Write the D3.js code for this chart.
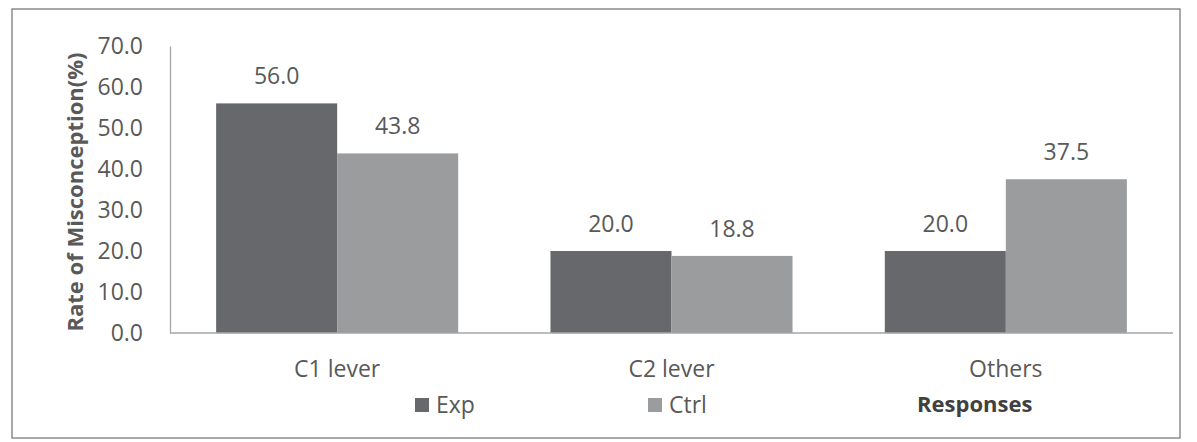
<!DOCTYPE html>
<html><head><meta charset="utf-8">
<script src="https://cdn.jsdelivr.net/npm/d3@7"></script>
<style>html,body{margin:0;padding:0;background:#fff}svg{display:block}</style>
</head><body>
<script>
const categories = ["C1 lever", "C2 lever", "Others"];
const seriesNames = ["Exp", "Ctrl"];
const expValues = [56.0, 20.0, 20.0];
const ctrlValues = [43.8, 18.8, 37.5];
const yTicks = [0, 10, 20, 30, 40, 50, 60, 70];
const yTitle = "Rate of Misconception(%)";
const xTitle = "Responses";

(function () {
const W = 1197, H = 442;
const colors = {Exp: "#67686b", Ctrl: "#9b9c9e"};
const textColor = "#595959";
const font = "'Open Sans', sans-serif";
const fs = 23;

const svg = d3.select("body").append("svg").attr("width", W).attr("height", H);
svg.append("rect").attr("x", 12).attr("y", 9).attr("width", 1168).attr("height", 429)
  .attr("fill", "#fff").attr("stroke", "#8c8c8c").attr("stroke-width", 1.5);

const pLeft = 170, pRight = 1173, pTop = 46, pBottom = 333;
const y = d3.scaleLinear().domain([0, 70]).range([pBottom, pTop]);
const x0 = d3.scaleBand().domain(categories).range([pLeft, pRight]).paddingInner(0.276).paddingOuter(0.138);
const x1 = d3.scaleBand().domain(seriesNames).range([0, x0.bandwidth()]);

const data = categories.map((c, i) => ({cat: c, vals: [{s: "Exp", v: expValues[i]}, {s: "Ctrl", v: ctrlValues[i]}]}));

const g = svg.append("g");
const groups = g.selectAll("g.grp").data(data).join("g").attr("transform", d => `translate(${x0(d.cat)},0)`);
groups.selectAll("rect").data(d => d.vals).join("rect")
  .attr("x", d => x1(d.s)).attr("width", x1.bandwidth())
  .attr("y", d => y(d.v)).attr("height", d => y(0) - y(d.v))
  .attr("fill", d => colors[d.s]);
groups.selectAll("text").data(d => d.vals).join("text")
  .attr("x", d => x1(d.s) + x1.bandwidth() / 2).attr("y", d => y(d.v) - 19)
  .attr("text-anchor", "middle").attr("font-family", font).attr("font-size", fs)
  .attr("fill", textColor).text(d => d.v.toFixed(1));

const yAxis = d3.axisLeft(y).tickValues(yTicks).tickFormat(d => d.toFixed(1)).tickSize(0).tickPadding(27);
const ya = svg.append("g").attr("transform", `translate(${pLeft},0)`).call(yAxis);
ya.select(".domain").attr("stroke", "#a6a6a6").attr("stroke-width", 1.3);
ya.selectAll("text").attr("font-family", font).attr("font-size", fs).attr("fill", textColor);

const xAxis = d3.axisBottom(x0).tickSize(0).tickPadding(28);
const xa = svg.append("g").attr("transform", `translate(0,${pBottom})`).call(xAxis);
xa.select(".domain").attr("stroke", "#a6a6a6").attr("stroke-width", 1.3).attr("d", `M${pLeft},0H${pRight}`);
xa.selectAll("text").attr("font-family", font).attr("font-size", fs).attr("fill", textColor);

svg.append("text").attr("transform", "translate(83,192) rotate(-90)")
  .attr("text-anchor", "middle").attr("font-family", font).attr("font-weight", "bold")
  .attr("font-size", 22).attr("fill", textColor).text(yTitle);

const legendX = {Exp: 415, Ctrl: 648};
seriesNames.forEach(s => {
  svg.append("rect").attr("x", legendX[s]).attr("y", 398).attr("width", 14).attr("height", 14).attr("fill", colors[s]);
  svg.append("text").attr("x", legendX[s] + 21).attr("y", 413).attr("font-family", font)
    .attr("font-size", fs).attr("fill", textColor).text(s);
});
svg.append("text").attr("x", 917).attr("y", 412).attr("font-family", font).attr("font-weight", "bold")
  .attr("font-size", 22).attr("fill", "#404040").text(xTitle);
})();
</script>
</body></html>
